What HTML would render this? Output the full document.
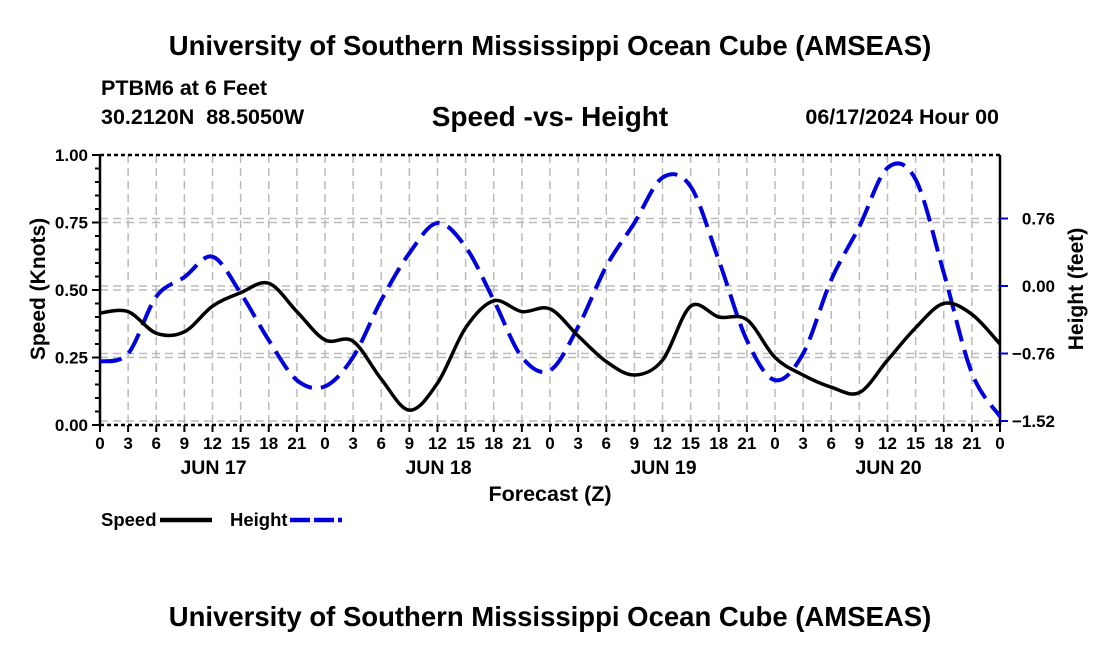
<!DOCTYPE html>
<html><head><meta charset="utf-8"><style>
body{margin:0;background:#fff;}
svg text{font-family:"Liberation Sans",Arial,sans-serif;font-weight:bold;fill:#000;}
</style></head><body>
<svg id="chart" width="1100" height="650" viewBox="0 0 1100 650">
<rect width="1100" height="650" fill="#fff"/>
<text x="550" y="55" font-size="27.5" text-anchor="middle">University of Southern Mississippi Ocean Cube (AMSEAS)</text>
<text x="101" y="95" font-size="21.5">PTBM6 at 6 Feet</text>
<text x="101" y="124" font-size="21.5" xml:space="preserve">30.2120N  88.5050W</text>
<text x="550" y="126" font-size="28" text-anchor="middle">Speed -vs- Height</text>
<text x="999" y="124" font-size="21.5" text-anchor="end">06/17/2024 Hour 00</text>
<g id="grid"></g>
<g id="axes"></g>
<g id="series"></g>
<text transform="translate(45,289) rotate(-90)" font-size="21" text-anchor="middle">Speed (Knots)</text>
<text transform="translate(1083,289) rotate(-90)" font-size="21" text-anchor="middle">Height (feet)</text>
<text x="550" y="501" font-size="21.5" text-anchor="middle">Forecast (Z)</text>
<g>
<text x="101" y="526" font-size="18.5">Speed</text>
<line x1="160" y1="520" x2="212" y2="520" stroke="#000" stroke-width="4.5"/>
<text x="230" y="526" font-size="18.5">Height</text>
<line x1="290" y1="520" x2="342" y2="520" stroke="#0000dd" stroke-width="4.5" stroke-dasharray="20,4"/>
</g>
<text x="550" y="626" font-size="27.5" text-anchor="middle">University of Southern Mississippi Ocean Cube (AMSEAS)</text>
</svg>
<script>
const hours = [0,3,6,9,12,15,18,21,24,27,30,33,36,39,42,45,48,51,54,57,60,63,66,69,72,75,78,81,84,87,90,93,96];
const speedValues = [0.415,0.42,0.34,0.345,0.44,0.49,0.525,0.42,0.315,0.31,0.17,0.055,0.155,0.36,0.46,0.42,0.43,0.33,0.235,0.185,0.24,0.44,0.40,0.39,0.25,0.185,0.14,0.12,0.24,0.36,0.45,0.41,0.30];
const heightValues = [-0.85,-0.76,-0.12,0.10,0.33,-0.08,-0.61,-1.06,-1.13,-0.80,-0.16,0.37,0.71,0.44,-0.16,-0.80,-0.95,-0.46,0.22,0.71,1.22,1.12,0.29,-0.61,-1.06,-0.76,0.07,0.67,1.33,1.20,0.15,-0.98,-1.47];
const speedTicks = [0,0.25,0.5,0.75,1.0];
const speedTickLabels = ["0.00","0.25","0.50","0.75","1.00"];
const heightTicks = [0.76,0,-0.76,-1.52];
const heightTickLabels = ["0.76","0.00","\u22120.76","\u22121.52"];
const hourTickLabels = ["0","3","6","9","12","15","18","21"];
const dayLabels = ["JUN 17","JUN 18","JUN 19","JUN 20"];

const L=100,R=1000,T=155,B=425;
const NS="http://www.w3.org/2000/svg";
function xS(h){return L+h*(R-L)/96;}
function yS(v){return B-v*(B-T);}
function yH(v){return 286-v*67.5/0.76;}
function mk(tag,attrs,parent){const e=document.createElementNS(NS,tag);for(const k in attrs)e.setAttribute(k,attrs[k]);parent.appendChild(e);return e;}
const grid=document.getElementById('grid'),axes=document.getElementById('axes'),series=document.getElementById('series');

for(let i=1;i<hours.length-1;i++){
  const g=mk('line',{x1:xS(hours[i]),x2:xS(hours[i]),y1:T,y2:B,stroke:'#bbb','stroke-width':1.5,'stroke-dasharray':'8,5'},grid);
  
  
}
speedTicks.forEach(v=>{if(v===0||v===1)return;
  const g=mk('line',{x1:L,x2:R,y1:yS(v),y2:yS(v),stroke:'#bbb','stroke-width':1.5,'stroke-dasharray':'8,5'},grid);
  
  
});
heightTicks.forEach(v=>{
  const g=mk('line',{x1:L,x2:R,y1:yH(v),y2:yH(v),stroke:'#bbb','stroke-width':1.5,'stroke-dasharray':'8,5'},grid);
  
  
});

[[L,T,L,B,null],[R,T,R,B,null],[L,T,R,T,'4,3'],[L,B,R,B,'4,3']].forEach(a=>{
  const ln=mk('line',{x1:a[0],y1:a[1],x2:a[2],y2:a[3],stroke:'#000','stroke-width':2.5},axes);
  if(a[4])ln.setAttribute('stroke-dasharray',a[4]);
  
  
});
for(let v=0;v<=1.0001;v+=0.05){
  const major=Math.abs(v*4-Math.round(v*4))<1e-6;
  const t=mk('line',{x1:L-(major?8:5),x2:L,y1:yS(v),y2:yS(v),stroke:'#000','stroke-width':2},axes);
  
  
}
speedTicks.forEach((v,i)=>{
  const t=mk('text',{x:L-12,y:yS(v)+6,'font-size':17,'text-anchor':'end'},axes);
  t.textContent=speedTickLabels[i];
  
  
});
heightTicks.forEach((v,i)=>{
  const t=mk('line',{x1:R,x2:R+8,y1:yH(v),y2:yH(v),stroke:'#0000dd','stroke-width':2},axes);
  
  
  const tx=mk('text',{x:1055,y:yH(v)+6,'font-size':17,'text-anchor':'end'},axes);
  tx.textContent=heightTickLabels[i];
  
  
});
hours.forEach((h,i)=>{
  const t=mk('line',{x1:xS(h),x2:xS(h),y1:B,y2:B+7,stroke:'#000','stroke-width':2},axes);
  
  
  const tx=mk('text',{x:xS(h),y:B+24,'font-size':17,'text-anchor':'middle'},axes);
  tx.textContent=hourTickLabels[i%8];
  
  
});
dayLabels.forEach((d,i)=>{
  const tx=mk('text',{x:xS(12+24*i)+1,y:474,'font-size':19.5,'text-anchor':'middle'},axes);
  tx.textContent=d;
  
  
});

function curve(pts){
  let d='M'+pts[0][0]+','+pts[0][1];
  for(let i=0;i<pts.length-1;i++){
    const p0=pts[Math.max(0,i-1)],p1=pts[i],p2=pts[i+1],p3=pts[Math.min(pts.length-1,i+2)];
    const c1=[p1[0]+(p2[0]-p0[0])/6,p1[1]+(p2[1]-p0[1])/6];
    const c2=[p2[0]-(p3[0]-p1[0])/6,p2[1]-(p3[1]-p1[1])/6];
    d+=' C'+c1[0]+','+c1[1]+' '+c2[0]+','+c2[1]+' '+p2[0]+','+p2[1];
  }
  return d;
}
const hp=mk('path',{d:curve(hours.map((h,i)=>[xS(h),yH(heightValues[i])])),fill:'none',stroke:'#0000dd','stroke-width':4,'stroke-dasharray':'22,9'},series);


const sp=mk('path',{d:curve(hours.map((h,i)=>[xS(h),yS(speedValues[i])])),fill:'none',stroke:'#000','stroke-width':3.5},series);


</script>
</body></html>
